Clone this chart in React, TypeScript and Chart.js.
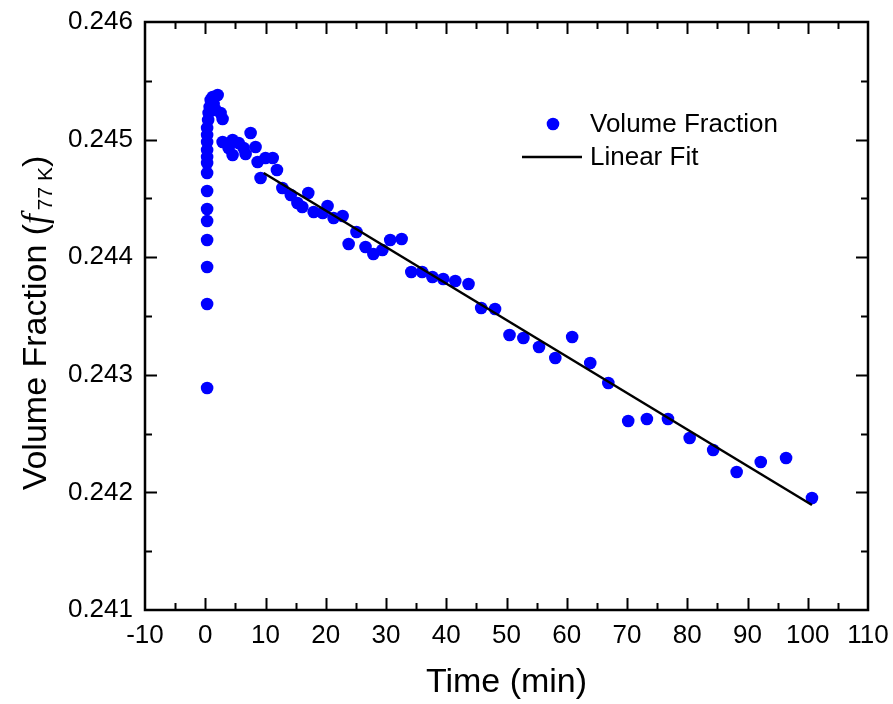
import React, { useEffect, useRef } from "react";
import { Chart, registerables } from "chart.js";

Chart.register(...registerables);

// Measured volume fraction vs. time
const timeMin = [
  0.31, 0.31, 0.31, 0.31, 0.31, 0.31, 0.31, 0.31, 0.31, 0.31, 0.31, 0.31, 0.31, 0.31,
  0.48, 0.56, 0.73, 0.9, 1.23, 2.06, 1.39, 1.72, 2.55, 2.88,
  2.88, 3.88, 4.54, 4.54, 5.54, 6.37, 6.7, 7.53, 8.35, 8.69, 9.18, 10.0, 11.2, 11.9,
  12.8, 14.2, 15.3, 16.1, 17.1, 18.0, 19.5, 20.3, 21.3, 22.8, 23.8, 25.1, 26.6, 27.9,
  29.4, 30.7, 32.6, 34.2, 36.0, 37.7, 39.5, 41.5, 43.7, 45.8, 48.1, 50.5, 52.8, 55.4,
  58.1, 60.9, 63.9, 66.9, 70.2, 73.3, 76.8, 80.4, 84.3, 88.2, 92.2, 96.4, 100.7,
];
const volumeFraction = [
  0.242888, 0.243602, 0.243917, 0.244146, 0.244308, 0.24441, 0.244563, 0.244716, 0.244801,
  0.244852, 0.244912, 0.24498, 0.245039, 0.245099,
  0.245167, 0.245226, 0.245277, 0.245337, 0.245362, 0.245379, 0.245303, 0.245252, 0.245226,
  0.245175,
  0.24498, 0.244929, 0.244869, 0.244997, 0.244971, 0.244929, 0.244878, 0.245056, 0.244937,
  0.24481, 0.244673, 0.244844, 0.244844, 0.244741,
  0.244588, 0.244529, 0.244461, 0.244427, 0.244546, 0.244384, 0.244376, 0.244435, 0.244333,
  0.24435, 0.244112, 0.244214, 0.244087, 0.244027, 0.244061, 0.244146, 0.244155, 0.243874,
  0.243874, 0.243832, 0.243815, 0.243798, 0.243772, 0.243568, 0.24356, 0.243338, 0.243313,
  0.243236, 0.243143, 0.243321, 0.2431, 0.24293, 0.242607, 0.242624, 0.242624, 0.242463,
  0.242361, 0.242173, 0.242259, 0.242293, 0.241952,
];

// Linear fit end points
const fitTimeMin = [9.7, 100.7];
const fitVolumeFraction = [0.244716, 0.241893];

// Axis ranges and tick spacing
const xRange = [-10, 110];
const xMajorStep = 10;
const xMinorStep = 5;
const yRange = [0.241, 0.246];
const yMajorStep = 0.001;
const yMinorStep = 0.0005;

const seriesLabels = ["Volume Fraction", "Linear Fit"];
const xTitle = "Time (min)";
const yTitleParts = ["Volume Fraction (", "f", "77 K", ")"];

const FONT = "'Liberation Sans', Arial, Helvetica, sans-serif";
const BLUE = "#0000ff";

// Closed frame with inward major/minor ticks on all four sides, plus titles and legend
const framePlugin = {
  id: "frameAndLabels",
  afterDraw(chart: any) {
    const { ctx, chartArea: a, scales } = chart;
    const x = scales.x;
    const y = scales.y;
    ctx.save();
    ctx.strokeStyle = "#000";
    ctx.lineWidth = 2.5;
    ctx.strokeRect(a.left, a.top, a.right - a.left, a.bottom - a.top);

    ctx.lineWidth = 2;
    ctx.beginPath();
    const nx = Math.round((xRange[1] - xRange[0]) / xMinorStep);
    for (let i = 1; i < nx; i++) {
      const v = xRange[0] + i * xMinorStep;
      const major = Math.abs(v / xMajorStep - Math.round(v / xMajorStep)) < 1e-9;
      const len = major ? 12 : 7;
      const px = Math.round(x.getPixelForValue(v)) + 0.5;
      ctx.moveTo(px, a.bottom);
      ctx.lineTo(px, a.bottom - len);
      ctx.moveTo(px, a.top);
      ctx.lineTo(px, a.top + len);
    }
    const ny = Math.round((yRange[1] - yRange[0]) / yMinorStep);
    for (let i = 1; i < ny; i++) {
      const v = yRange[0] + i * yMinorStep;
      const len = i % 2 === 0 ? 12 : 7;
      const py = Math.round(y.getPixelForValue(v)) + 0.5;
      ctx.moveTo(a.left, py);
      ctx.lineTo(a.left + len, py);
      ctx.moveTo(a.right, py);
      ctx.lineTo(a.right - len, py);
    }
    ctx.stroke();

    // x-axis title
    ctx.fillStyle = "#000";
    ctx.font = `34px ${FONT}`;
    ctx.textAlign = "center";
    ctx.textBaseline = "alphabetic";
    ctx.fillText(xTitle, (a.left + a.right) / 2, 692);

    // y-axis title with italic f and subscript
    ctx.save();
    ctx.translate(46, 0);
    ctx.rotate(-Math.PI / 2);
    ctx.textAlign = "left";
    ctx.textBaseline = "alphabetic";
    const mainFont = `34px ${FONT}`;
    const italicFont = `italic 35px 'Liberation Serif', 'Times New Roman', serif`;
    const subFont = `21px ${FONT}`;
    const parts = [
      { t: yTitleParts[0], f: mainFont, dy: 0 },
      { t: yTitleParts[1], f: italicFont, dy: 0 },
      { t: yTitleParts[2], f: subFont, dy: 6 },
      { t: yTitleParts[3], f: mainFont, dy: 0 },
    ];
    let total = 0;
    for (const p of parts) {
      ctx.font = p.f;
      total += ctx.measureText(p.t).width + (p.t === "f" ? 4 : 0);
    }
    let cx = -(323 + total / 2);
    for (const p of parts) {
      ctx.font = p.f;
      ctx.fillText(p.t, cx, p.dy);
      cx += ctx.measureText(p.t).width + (p.t === "f" ? 4 : 0);
    }
    ctx.restore();

    // legend
    ctx.font = `26px ${FONT}`;
    ctx.textAlign = "left";
    ctx.textBaseline = "middle";
    ctx.fillStyle = BLUE;
    ctx.beginPath();
    ctx.arc(553, 124, 6.3, 0, Math.PI * 2);
    ctx.fill();
    ctx.fillStyle = "#000";
    ctx.fillText(seriesLabels[0], 590, 125);
    ctx.strokeStyle = "#000";
    ctx.lineWidth = 2.5;
    ctx.beginPath();
    ctx.moveTo(522, 157);
    ctx.lineTo(582, 157);
    ctx.stroke();
    ctx.fillText(seriesLabels[1], 590, 158);
    ctx.restore();
  },
};

export default function App() {
  const canvasRef = useRef<HTMLCanvasElement | null>(null);

  useEffect(() => {
    const canvas = canvasRef.current;
    if (!canvas) return;
    const points = timeMin.map((t, i) => ({ x: t, y: volumeFraction[i] }));
    const fit = fitTimeMin.map((t, i) => ({ x: t, y: fitVolumeFraction[i] }));

    const chart = new Chart(canvas, {
      type: "scatter",
      data: {
        datasets: [
          {
            label: seriesLabels[1],
            data: fit,
            showLine: true,
            borderColor: "#000",
            borderWidth: 2.5,
            pointRadius: 0,
            order: 0,
          },
          {
            label: seriesLabels[0],
            data: points,
            backgroundColor: BLUE,
            borderColor: BLUE,
            borderWidth: 0,
            pointRadius: 6.3,
            pointHoverRadius: 6.3,
            order: 1,
          },
        ],
      },
      options: {
        responsive: false,
        animation: false,
        devicePixelRatio: 1,
        layout: { padding: { top: 22, right: 25, left: 0, bottom: 0 } },
        plugins: {
          legend: { display: false },
          tooltip: { enabled: false },
        },
        scales: {
          x: {
            type: "linear",
            min: xRange[0],
            max: xRange[1],
            grid: { display: false, drawTicks: false },
            border: { display: false },
            ticks: {
              stepSize: xMajorStep,
              padding: 10,
              color: "#000",
              font: { family: FONT, size: 26 },
              maxRotation: 0,
              autoSkip: false,
              callback: (v: any) => String(Math.round(Number(v))),
            },
            afterFit: (s: any) => {
              s.height = 94;
              s.paddingLeft = 0;
              s.paddingRight = 0;
            },
          },
          y: {
            type: "linear",
            min: yRange[0],
            max: yRange[1],
            grid: { display: false, drawTicks: false },
            border: { display: false },
            ticks: {
              stepSize: yMajorStep,
              padding: 12,
              color: "#000",
              font: { family: FONT, size: 26 },
              autoSkip: false,
              callback: (v: any) => Number(v).toFixed(3),
            },
            afterFit: (s: any) => {
              s.width = 145;
              s.paddingTop = 0;
              s.paddingBottom = 0;
            },
          },
        },
      },
      plugins: [framePlugin],
    });
    return () => chart.destroy();
  }, []);

  return (
    <div style={{ position: "absolute", left: 0, top: 0, width: 893, height: 704, background: "#fff" }}>
      <canvas ref={canvasRef} width={893} height={704} style={{ display: "block" }} />
    </div>
  );
}
